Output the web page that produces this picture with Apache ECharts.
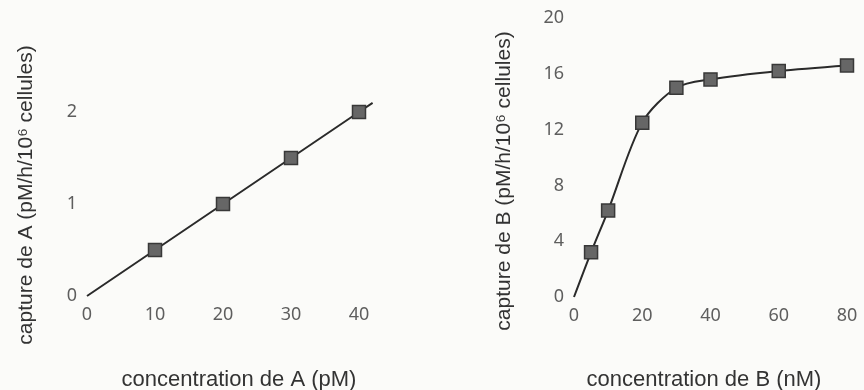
<!DOCTYPE html>
<html>
<head>
<meta charset="utf-8">
<script src="https://cdn.jsdelivr.net/npm/echarts@6/dist/echarts.min.js"></script>
<style>
html,body{margin:0;padding:0;background:#fbfbf9;}
#c{width:864px;height:390px;}
</style>
</head>
<body>
<div id="c"></div>
<script>
// ---- data (left chart: A) ----
const concA = [0, 10, 20, 30, 40];
const captureA = [0, 0.5, 1.0, 1.5, 2.0];
const lineEndA = [42, 2.1]; // line drawn slightly past last point
const xTicksA = [0, 10, 20, 30, 40];
const yTicksA = [0, 1, 2];

// ---- data (right chart: B) ----
const concB = [0, 5, 10, 20, 30, 40, 60, 80];
const captureB = [0, 3.2, 6.2, 12.5, 15.0, 15.6, 16.2, 16.6];
const xTicksB = [0, 20, 40, 60, 80];
const yTicksB = [0, 4, 8, 12, 16, 20];

const titleXA = 'concentration de A (pM)';
const titleYA = 'capture de A (pM/h/10\u2076 cellules)';
const titleXB = 'concentration de B (nM)';
const titleYB = 'capture de B (pM/h/10\u2076 cellules)';

const tickFont = {fontFamily: 'Noto Sans', fontSize: 18, color: '#5e5e5e'};
const titleFontX = '22px "Liberation Sans", Arial, "DejaVu Sans", sans-serif';
const titleFontY = '21px "Liberation Sans", Arial, "DejaVu Sans", sans-serif';
const titleColor = '#333';

function ptsA() {
  const d = concA.map((x, i) => ({value: [x, captureA[i]], symbol: (x === 0 ? 'none' : 'rect')}));
  d.push({value: lineEndA, symbol: 'none'});
  return d;
}
function ptsB() {
  return concB.map((x, i) => ({value: [x, captureB[i]], symbol: (x === 0 ? 'none' : 'rect')}));
}
function tickFormatter(ticks) {
  return function (v) { return ticks.indexOf(v) >= 0 ? String(v) : ''; };
}

function axisCommon(extra) {
  return Object.assign({
    type: 'value',
    axisLine: {show: false},
    axisTick: {show: false},
    splitLine: {show: false},
  }, extra);
}

const chart = echarts.init(document.getElementById('c'), null, {renderer: 'canvas'});
const markerStyle = {color: '#666666', borderColor: '#383838', borderWidth: 1.5};

// left x axis: 6.8 px per unit, 0 at x=87; extent goes to lineEndA x
const pxPerA = (359 - 87) / 40;

chart.setOption({
  backgroundColor: '#fbfbf9',
  animation: false,
  grid: [
    {left: 87, right: 864 - (87 + pxPerA * lineEndA[0]), top: 112, bottom: 390 - 296},
    {left: 574, right: 864 - 847, top: 18, bottom: 390 - 297}
  ],
  xAxis: [
    axisCommon({gridIndex: 0, min: xTicksA[0], max: lineEndA[0], interval: xTicksA[1] - xTicksA[0],
      axisLabel: Object.assign({margin: 10, formatter: tickFormatter(xTicksA), showMaxLabel: false}, tickFont)}),
    axisCommon({gridIndex: 1, min: xTicksB[0], max: xTicksB[xTicksB.length - 1], interval: xTicksB[1] - xTicksB[0],
      axisLabel: Object.assign({margin: 10}, tickFont)})
  ],
  yAxis: [
    axisCommon({gridIndex: 0, min: yTicksA[0], max: yTicksA[yTicksA.length - 1], interval: yTicksA[1] - yTicksA[0],
      axisLabel: Object.assign({margin: 10, padding: [6, 0, 0, 0]}, tickFont)}),
    axisCommon({gridIndex: 1, min: yTicksB[0], max: yTicksB[yTicksB.length - 1], interval: yTicksB[1] - yTicksB[0],
      axisLabel: Object.assign({margin: 10, padding: [6, 0, 0, 0]}, tickFont)})
  ],
  series: [
    {
      type: 'line', xAxisIndex: 0, yAxisIndex: 0, data: ptsA(), clip: false,
      symbolSize: 13, lineStyle: {color: '#2a2a2a', width: 2}, itemStyle: markerStyle
    },
    {
      type: 'line', xAxisIndex: 1, yAxisIndex: 1, data: ptsB(), clip: false, smooth: 0.3,
      symbolSize: 13, lineStyle: {color: '#2a2a2a', width: 2}, itemStyle: markerStyle
    }
  ],
  graphic: [
    {type: 'text', x: 239, y: 380, style: {text: titleXA, font: titleFontX, fill: titleColor, align: 'center', verticalAlign: 'middle'}},
    {type: 'text', x: 704, y: 380, style: {text: titleXB, font: titleFontX, fill: titleColor, align: 'center', verticalAlign: 'middle'}},
    {type: 'text', x: 26, y: 195, rotation: Math.PI / 2, style: {text: titleYA, font: titleFontY, fill: titleColor, align: 'center', verticalAlign: 'middle'}},
    {type: 'text', x: 504, y: 181, rotation: Math.PI / 2, style: {text: titleYB, font: titleFontY, fill: titleColor, align: 'center', verticalAlign: 'middle'}}
  ]
});
</script>
</body>
</html>
